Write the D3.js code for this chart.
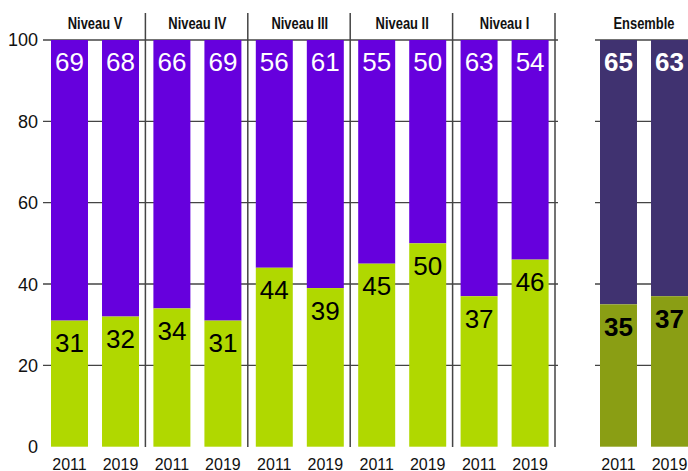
<!DOCTYPE html>
<html><head><meta charset="utf-8">
<script src="https://cdn.jsdelivr.net/npm/d3@7"></script>
<style>body{margin:0;background:#fff}svg{display:block}</style>
</head><body>
<svg id="c" width="688" height="471"></svg>
<script>
const groups = ["Niveau V","Niveau IV","Niveau III","Niveau II","Niveau I"];
const totalGroup = "Ensemble";
const years = ["2011","2019"];
const lowValues = {
  "Niveau V":[31,32], "Niveau IV":[34,31], "Niveau III":[44,39],
  "Niveau II":[45,50], "Niveau I":[37,46], "Ensemble":[35,37]
};
const highValues = {
  "Niveau V":[69,68], "Niveau IV":[66,69], "Niveau III":[56,61],
  "Niveau II":[55,50], "Niveau I":[63,54], "Ensemble":[65,63]
};
const yTicks = [0,20,40,60,80,100];

const svg = d3.select("#c");
const y = d3.scaleLinear().domain([0,100]).range([446.7,40]);
const xMain = d3.scaleBand().domain(groups).range([43,555]).padding(0);
const xTot = d3.scaleBand().domain([totalGroup]).range([592,694.4]).padding(0);
const xYear = d3.scaleBand().domain(years).range([8,96]).paddingInner(0.275).paddingOuter(0);
const xg = g => g===totalGroup ? xTot(g) : xMain(g);

const colors = {
  low:"#b0d800", high:"#6600dd", lowTot:"#8a9e14", highTot:"#403270"
};
const numFont = "'Liberation Sans', Arial, sans-serif";
const titleFont = "'Liberation Sans', Arial, sans-serif";

// gridlines
const grid = svg.append("g");
yTicks.filter(t=>t>0).forEach(t=>{
  grid.append("line").attr("x1",43).attr("x2",558).attr("y1",y(t)).attr("y2",y(t))
    .attr("stroke","#444").attr("stroke-width",1.3);
  grid.append("line").attr("x1",595).attr("x2",690).attr("y1",y(t)).attr("y2",y(t))
    .attr("stroke","#444").attr("stroke-width",1.3);
});

// y tick labels
svg.append("g").selectAll("text").data(yTicks).join("text")
  .attr("x",38).attr("y",d=>y(d)).attr("dy","0.36em")
  .attr("text-anchor","end").attr("font-family",numFont).attr("font-size",18)
  .attr("fill","#111").text(d=>d);

// separators
svg.append("g").selectAll("line").data(groups).join("line")
  .attr("x1",d=>xMain(d)+xMain.bandwidth()).attr("x2",d=>xMain(d)+xMain.bandwidth())
  .attr("y1",13).attr("y2",447).attr("stroke","#444").attr("stroke-width",1.5);

const all = groups.concat([totalGroup]);
all.forEach(g=>{
  const isTot = g===totalGroup;
  const gx = xg(g);
  const gEl = svg.append("g").attr("transform",`translate(${gx},0)`);
  years.forEach((yr,i)=>{
    const lo = lowValues[g][i], hi = highValues[g][i];
    const bx = xYear(yr), bw = xYear.bandwidth();
    gEl.append("rect").attr("x",bx).attr("width",bw)
      .attr("y",y(lo+hi)).attr("height",y(lo)-y(lo+hi))
      .attr("fill",isTot?colors.highTot:colors.high);
    gEl.append("rect").attr("x",bx).attr("width",bw)
      .attr("y",y(lo)).attr("height",y(0)-y(lo))
      .attr("fill",isTot?colors.lowTot:colors.low);
    gEl.append("text").attr("x",bx+bw/2).attr("y",y(lo+hi)+31)
      .attr("text-anchor","middle").attr("font-family",numFont).attr("font-size",26)
      .attr("font-weight",isTot?"bold":"normal").attr("fill","#fff").text(hi);
    gEl.append("text").attr("x",bx+bw/2).attr("y",y(lo)+31.5)
      .attr("text-anchor","middle").attr("font-family",numFont).attr("font-size",26)
      .attr("font-weight",isTot?"bold":"normal").attr("fill","#000").text(lo);
    gEl.append("text").attr("x",bx+bw/2).attr("y",469.5)
      .attr("text-anchor","middle").attr("font-family",numFont).attr("font-size",16)
      .attr("fill","#111").text(yr);
  });
  const cx = (xYear(years[0])+xYear(years[1])+xYear.bandwidth())/2;
  const t = gEl.append("text").attr("x",cx).attr("y",29)
    .attr("text-anchor","middle").attr("font-family",titleFont).attr("font-size",17)
    .attr("font-weight","bold").attr("fill","#111").text(g);
  const w = t.node().getComputedTextLength();
  t.attr("textLength", w*0.76).attr("lengthAdjust","spacingAndGlyphs");
});
</script>
</body></html>
